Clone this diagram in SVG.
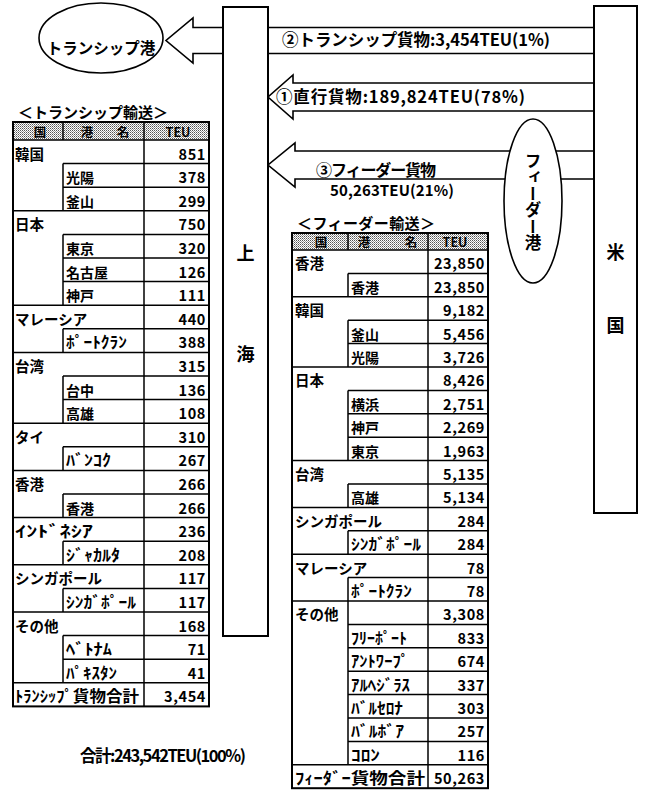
<svg xmlns="http://www.w3.org/2000/svg" width="647" height="794" viewBox="0 0 647 794">
<defs>
<pattern id="dots" width="2" height="2" patternUnits="userSpaceOnUse"><rect width="2" height="2" fill="#fff"/><rect width="1" height="1" fill="#555"/><rect x="1" y="1" width="1" height="1" fill="#999"/></pattern>
<style>
.t{font-family:"Noto Sans CJK JP","Noto Sans CJK SC",sans-serif;font-weight:700;fill:#000}
.c{font-size:14.5px}
.p{font-size:14px}
.h{font-size:15.5px}
.hd{font-size:12.5px}
.n{font-size:14.5px;text-anchor:end;letter-spacing:0.6px}
.m{text-anchor:middle}
.ln{fill:none;stroke:#000;stroke-width:1.5}
.bx{fill:#fff;stroke:#000;stroke-width:2}
.ar{fill:#fff;stroke:#000;stroke-width:1.6;stroke-linejoin:miter}
</style>
</defs>
<rect width="647" height="794" fill="#fff"/>

<g id="connectors">
<polygon class="ar" points="596,27.5 193,27.5 193,18 166,40.5 193,63 193,53.5 596,53.5"/>
<polygon class="ar" points="596,83 293,83 293,75 268,97 293,119 293,111 596,111"/>
<polygon class="ar" points="596,151 295,151 295,143 268,165 295,187 295,179 596,179"/>
<text class="t" x="282" y="46" font-size="16.5" textLength="268" lengthAdjust="spacing">②トランシップ貨物:3,454TEU(1%)</text>
<text class="t" x="276" y="103" font-size="16.5" textLength="249" lengthAdjust="spacing">①直行貨物:189,824TEU(78%)</text>
<text class="t" x="316" y="176" font-size="16" textLength="120" lengthAdjust="spacing">③フィーダー貨物</text>
<text class="t" x="330" y="196" font-size="15" textLength="124" lengthAdjust="spacing">50,263TEU(21%)</text>
</g>

<g id="transship-port">
<ellipse cx="101" cy="38" rx="62" ry="35" fill="#fff" stroke="#000" stroke-width="1.6"/>
<text class="t m" x="101" y="54" font-size="15.5">トランシップ港</text>
</g>

<g id="shanghai">
<rect class="bx" x="223" y="7" width="45" height="629"/>
<text class="t m" x="245.5" y="260" font-size="18">上</text>
<text class="t m" x="245.5" y="361" font-size="18">海</text>
</g>

<g id="usa">
<rect class="bx" x="594" y="6" width="43" height="507"/>
<text class="t m" x="615.5" y="259" font-size="18">米</text>
<text class="t m" x="615.5" y="332" font-size="18">国</text>
</g>

<g id="feeder-port">
<ellipse cx="533" cy="201" rx="29" ry="82" fill="#fff" stroke="#000" stroke-width="1.6"/>
<text class="t" x="533" y="152" font-size="16.5" writing-mode="vertical-rl" style="writing-mode:vertical-rl">フィーダー港</text>
</g>

<g id="transship-table">
<text class="t" x="18" y="118" font-size="15" textLength="150" lengthAdjust="spacing">＜トランシップ輸送＞</text>
<rect x="13" y="122" width="196" height="18" fill="url(#dots)"/>
<text class="t m hd" x="40" y="136.5">国</text>
<text class="t m hd" x="87" y="136.5">港</text>
<text class="t m hd" x="123" y="136.5">名</text>
<text class="t m hd" x="178" y="136.5">TEU</text>
<path class="ln" d="M63 122V140 M13 140H209 M13 210.8H209 M13 305.2H209 M13 352.4H209 M13 423.2H209 M13 470.4H209 M13 517.6H209 M13 564.8H209 M13 612H209 M13 682.8H209 M63 163.6H209 M63 187.2H209 M63 234.4H209 M63 258H209 M63 281.6H209 M63 328.8H209 M63 376H209 M63 399.6H209 M63 446.8H209 M63 494H209 M63 541.2H209 M63 588.4H209 M63 635.6H209 M63 659.2H209 M63 163.6V210.8 M63 234.4V305.2 M63 328.8V352.4 M63 376V423.2 M63 446.8V470.4 M63 494V517.6 M63 541.2V564.8 M63 588.4V612 M63 635.6V682.8"/>
<path class="ln" stroke-width="2" d="M144 122V706.4"/>
<rect x="13" y="122" width="196" height="584.4" fill="none" stroke="#000" stroke-width="2"/>
<g class="t c">
<text x="15" y="159.6">韓国</text>
<text x="15" y="230.4">日本</text>
<text x="15" y="324.8">マレーシア</text>
<text x="15" y="372">台湾</text>
<text x="15" y="442.8">タイ</text>
<text x="15" y="490">香港</text>
<text x="15" y="584.4">シンガポール</text>
<text x="15" y="631.6">その他</text>
</g>
<g class="t h">
<text x="15" y="537.2" textLength="78" lengthAdjust="spacingAndGlyphs">ｲﾝﾄﾞﾈｼｱ</text>
<text x="15" y="702.4" textLength="124" lengthAdjust="spacingAndGlyphs">ﾄﾗﾝｼｯﾌﾟ貨物合計</text>
</g>
<g class="t p">
<text x="66" y="183.2">光陽</text>
<text x="66" y="206.8">釜山</text>
<text x="66" y="254">東京</text>
<text x="66" y="277.6">名古屋</text>
<text x="66" y="301.2">神戸</text>
<text x="66" y="395.6">台中</text>
<text x="66" y="419.2">高雄</text>
<text x="66" y="513.6">香港</text>
</g>
<g class="t h">
<text x="66" y="348.4" textLength="61" lengthAdjust="spacingAndGlyphs">ﾎﾟｰﾄｸﾗﾝ</text>
<text x="66" y="466.4" textLength="45" lengthAdjust="spacingAndGlyphs">ﾊﾞﾝｺｸ</text>
<text x="66" y="560.8" textLength="54" lengthAdjust="spacingAndGlyphs">ｼﾞｬｶﾙﾀ</text>
<text x="66" y="608" textLength="70" lengthAdjust="spacingAndGlyphs">ｼﾝｶﾞﾎﾟｰﾙ</text>
<text x="66" y="655.2" textLength="46" lengthAdjust="spacingAndGlyphs">ﾍﾞﾄﾅﾑ</text>
<text x="66" y="678.8" textLength="51" lengthAdjust="spacingAndGlyphs">ﾊﾟｷｽﾀﾝ</text>
</g>
<g class="t n">
<text x="206" y="159.6">851</text>
<text x="206" y="183.2">378</text>
<text x="206" y="206.8">299</text>
<text x="206" y="230.4">750</text>
<text x="206" y="254">320</text>
<text x="206" y="277.6">126</text>
<text x="206" y="301.2">111</text>
<text x="206" y="324.8">440</text>
<text x="206" y="348.4">388</text>
<text x="206" y="372">315</text>
<text x="206" y="395.6">136</text>
<text x="206" y="419.2">108</text>
<text x="206" y="442.8">310</text>
<text x="206" y="466.4">267</text>
<text x="206" y="490">266</text>
<text x="206" y="513.6">266</text>
<text x="206" y="537.2">236</text>
<text x="206" y="560.8">208</text>
<text x="206" y="584.4">117</text>
<text x="206" y="608">117</text>
<text x="206" y="631.6">168</text>
<text x="206" y="655.2">71</text>
<text x="206" y="678.8">41</text>
<text x="206" y="702.4">3,454</text>
</g>
</g>

<g id="feeder-table">
<text class="t" x="297" y="228.5" font-size="15" textLength="138" lengthAdjust="spacing">＜フィーダー輸送＞</text>
<rect x="292" y="233" width="196" height="17" fill="url(#dots)"/>
<text class="t m hd" x="321" y="247">国</text>
<text class="t m hd" x="364" y="247">港</text>
<text class="t m hd" x="411" y="247">名</text>
<text class="t m hd" x="455" y="247">TEU</text>
<path class="ln" d="M348 233V250 M292 250H488 M292 296.8H488 M292 367H488 M292 460.6H488 M292 507.4H488 M292 554.2H488 M292 601H488 M292 764.8H488 M348 273.4H488 M348 320.2H488 M348 343.6H488 M348 390.4H488 M348 413.8H488 M348 437.2H488 M348 484H488 M348 530.8H488 M348 577.6H488 M348 624.4H488 M348 647.8H488 M348 671.2H488 M348 694.6H488 M348 718H488 M348 741.4H488 M348 273.4V296.8 M348 320.2V367 M348 390.4V460.6 M348 484V507.4 M348 530.8V554.2 M348 577.6V601 M348 601V764.8"/>
<path class="ln" stroke-width="2" d="M428 233V788.2"/>
<rect x="292" y="233" width="196" height="555.2" fill="none" stroke="#000" stroke-width="2"/>
<g class="t c">
<text x="295" y="269.4">香港</text>
<text x="295" y="316.2">韓国</text>
<text x="295" y="386.4">日本</text>
<text x="295" y="480">台湾</text>
<text x="295" y="526.8">シンガポール</text>
<text x="295" y="573.6">マレーシア</text>
<text x="295" y="620.4">その他</text>
</g>
<g class="t h">
<text x="295" y="784.2" textLength="130" lengthAdjust="spacingAndGlyphs">ﾌｨｰﾀﾞｰ貨物合計</text>
</g>
<g class="t p">
<text x="351" y="292.8">香港</text>
<text x="351" y="339.6">釜山</text>
<text x="351" y="363">光陽</text>
<text x="351" y="409.8">横浜</text>
<text x="351" y="433.2">神戸</text>
<text x="351" y="456.6">東京</text>
<text x="351" y="503.4">高雄</text>
</g>
<g class="t h">
<text x="351" y="550.2" textLength="70" lengthAdjust="spacingAndGlyphs">ｼﾝｶﾞﾎﾟｰﾙ</text>
<text x="351" y="597" textLength="61" lengthAdjust="spacingAndGlyphs">ﾎﾟｰﾄｸﾗﾝ</text>
<text x="351" y="643.8" textLength="56" lengthAdjust="spacingAndGlyphs">ﾌﾘｰﾎﾟｰﾄ</text>
<text x="351" y="667.2" textLength="58" lengthAdjust="spacingAndGlyphs">ｱﾝﾄﾜｰﾌﾟ</text>
<text x="351" y="690.6" textLength="59" lengthAdjust="spacingAndGlyphs">ｱﾙﾍｼﾞﾗｽ</text>
<text x="351" y="714" textLength="52" lengthAdjust="spacingAndGlyphs">ﾊﾞﾙｾﾛﾅ</text>
<text x="351" y="737.4" textLength="53" lengthAdjust="spacingAndGlyphs">ﾊﾞﾙﾎﾞｱ</text>
<text x="351" y="760.8" textLength="29" lengthAdjust="spacingAndGlyphs">ｺﾛﾝ</text>
</g>
<g class="t n">
<text x="485" y="269.4">23,850</text>
<text x="485" y="292.8">23,850</text>
<text x="485" y="316.2">9,182</text>
<text x="485" y="339.6">5,456</text>
<text x="485" y="363">3,726</text>
<text x="485" y="386.4">8,426</text>
<text x="485" y="409.8">2,751</text>
<text x="485" y="433.2">2,269</text>
<text x="485" y="456.6">1,963</text>
<text x="485" y="480">5,135</text>
<text x="485" y="503.4">5,134</text>
<text x="485" y="526.8">284</text>
<text x="485" y="550.2">284</text>
<text x="485" y="573.6">78</text>
<text x="485" y="597">78</text>
<text x="485" y="620.4">3,308</text>
<text x="485" y="643.8">833</text>
<text x="485" y="667.2">674</text>
<text x="485" y="690.6">337</text>
<text x="485" y="714">303</text>
<text x="485" y="737.4">257</text>
<text x="485" y="760.8">116</text>
<text x="485" y="784.2">50,263</text>
</g>
</g>

<g id="grand-total">
<text class="t" x="80" y="762" font-size="16.5" textLength="166" lengthAdjust="spacing">合計:243,542TEU(100%)</text>
</g>
</svg>
